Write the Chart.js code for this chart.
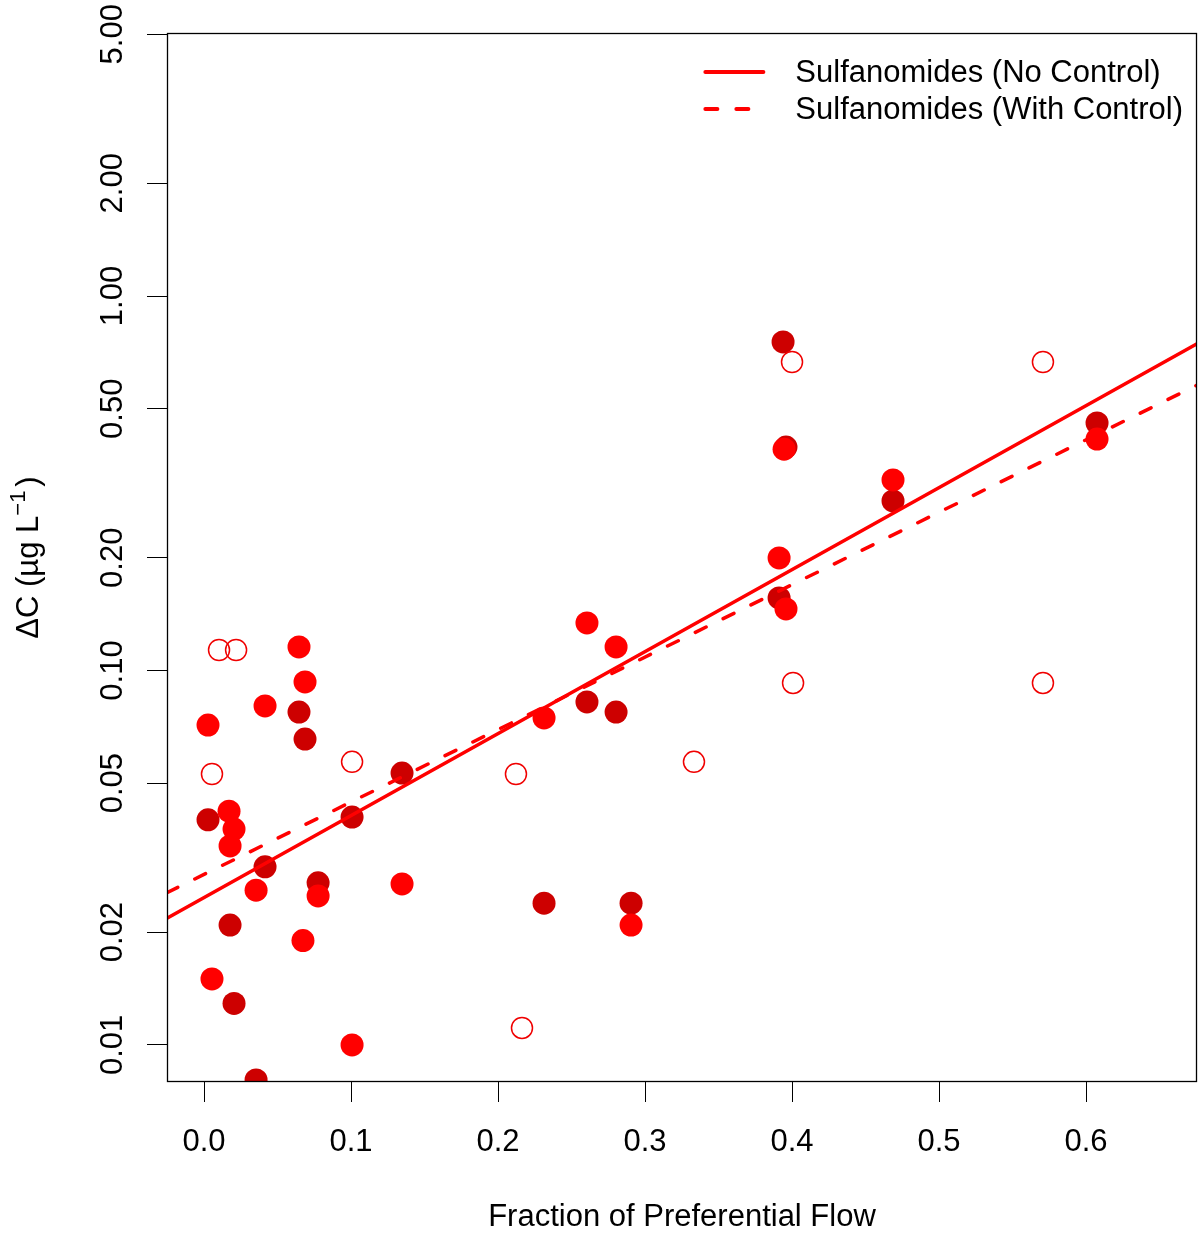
<!DOCTYPE html>
<html>
<head>
<meta charset="utf-8">
<script src="https://cdn.jsdelivr.net/npm/chart.js@4.4.1/dist/chart.umd.min.js"></script>
<style>
  html, body { margin: 0; padding: 0; background: #fff; overflow: hidden; }
  #wrap { position: relative; width: 1198px; height: 1234px; }
  #chart { display: block; }
</style>
</head>
<body>
<div id="wrap"><canvas id="chart"></canvas></div>
<script>
const FONT = "'Liberation Sans', Arial, sans-serif";

// filled points, bright red
const brightX = [0.0646, 0.0687, 0.0415, 0.0027, 0.0170, 0.0204, 0.0177, 0.0354, 0.0776, 0.0673, 0.0054,
                 0.1007, 0.1347, 0.2905, 0.2605, 0.2803, 0.2313, 0.3959, 0.3946, 0.3912, 0.4687, 0.6075];
const brightY = [0.1156, 0.0932, 0.0804, 0.0715, 0.0421, 0.0377, 0.0340, 0.0259, 0.0250, 0.0190, 0.0150,
                 0.0100, 0.0269, 0.0209, 0.1339, 0.1156, 0.0747, 0.1460, 0.390, 0.1997, 0.3227, 0.415];

// filled points, dark red
const darkX = [0.0646, 0.0687, 0.0027, 0.0415, 0.0776, 0.1007, 0.0177, 0.0204, 0.0354, 0.1347,
               0.2313, 0.2905, 0.2605, 0.2803, 0.3912, 0.3939, 0.3959, 0.4687, 0.6075];
const darkY = [0.0774, 0.0656, 0.0399, 0.0299, 0.0271, 0.0406, 0.0209, 0.0129, 0.00806, 0.0532,
               0.0239, 0.0239, 0.0824, 0.0774, 0.1562, 0.754, 0.395, 0.2836, 0.458];

// open circles
const openX = [0.0102, 0.0218, 0.0054, 0.1007, 0.2122, 0.2163, 0.3333, 0.4000, 0.4007, 0.5707, 0.5707];
const openY = [0.1134, 0.1134, 0.0529, 0.0570, 0.0529, 0.0111, 0.0570, 0.6665, 0.0926, 0.6665, 0.0926];

// fitted lines (ends at the plot limits)
const fitX = [-0.0252, 0.6755];
const fitNoControl = [0.0218, 0.746];
const fitWithControl = [0.0255, 0.578];
const fitLabels = ['Sulfanomides (No Control)', 'Sulfanomides (With Control)'];

const xRange = [-0.0252, 0.6755];
const yRange = [0.00796, 5.04];
const xTicks = [0, 0.1, 0.2, 0.3, 0.4, 0.5, 0.6];
const xTickLabels = ['0.0', '0.1', '0.2', '0.3', '0.4', '0.5', '0.6'];
const yTicks = [0.01, 0.02, 0.05, 0.1, 0.2, 0.5, 1, 2, 5];
const yTickLabels = ['0.01', '0.02', '0.05', '0.10', '0.20', '0.50', '1.00', '2.00', '5.00'];

function toPoints(xs, ys) {
    return xs.map((x, i) => ({x: x, y: ys[i]}));
}

// box, rotated y labels, y title and legend (R-like)
const rDecor = {
    id: 'rDecor',
    afterDraw(chart) {
        const ctx = chart.ctx;
        const area = chart.chartArea;
        const yScale = chart.scales.y;
        ctx.save();

        ctx.strokeStyle = '#000';
        ctx.lineWidth = 1.3;
        ctx.strokeRect(area.left + 0.5, area.top + 0.5, area.right - area.left - 1, area.bottom - area.top - 1);

        ctx.fillStyle = '#000';
        ctx.font = '31px ' + FONT;
        ctx.textAlign = 'center';
        ctx.textBaseline = 'alphabetic';
        yTicks.forEach((v, i) => {
            const py = yScale.getPixelForValue(v);
            ctx.save();
            ctx.translate(122, py);
            ctx.rotate(-Math.PI / 2);
            ctx.fillText(yTickLabels[i], 0, 0);
            ctx.restore();
        });

        // y title: ΔC (µg L^-1)
        const mainFont = '31px ' + FONT;
        const supFont = '22px ' + FONT;
        const parts = [
            {t: '\u0394C (\u00b5g L', f: mainFont, dy: 0},
            {t: '\u22121', f: supFont, dy: -13},
            {t: ')', f: mainFont, dy: 0}
        ];
        let total = 0;
        parts.forEach(p => { ctx.font = p.f; p.w = ctx.measureText(p.t).width; total += p.w; });
        total += 4;
        ctx.save();
        ctx.translate(38, (area.top + area.bottom) / 2);
        ctx.rotate(-Math.PI / 2);
        ctx.textAlign = 'left';
        let cx = -total / 2;
        parts.forEach((p, i) => {
            ctx.font = p.f;
            ctx.fillText(p.t, cx, p.dy);
            cx += p.w + (i === 1 ? 4 : 0);
        });
        ctx.restore();

        // legend
        ctx.font = '31px ' + FONT;
        const lines = chart.data.datasets.filter(d => d.isFit);
        let maxW = 0;
        lines.forEach(d => { maxW = Math.max(maxW, ctx.measureText(d.label).width); });
        const textX = area.right - 14 - maxW;
        lines.forEach((d, i) => {
            const ly = area.top + 39 + i * 37;
            ctx.beginPath();
            ctx.strokeStyle = d.borderColor;
            ctx.lineWidth = 4;
            ctx.lineCap = 'round';
            ctx.setLineDash(d.borderDash || []);
            ctx.moveTo(textX - 90, ly);
            ctx.lineTo(textX - 32, ly);
            ctx.stroke();
            ctx.setLineDash([]);
            ctx.textAlign = 'left';
            ctx.textBaseline = 'middle';
            ctx.fillStyle = '#000';
            ctx.fillText(d.label, textX, ly + 1);
        });
        ctx.restore();
    }
};

new Chart(document.getElementById('chart'), {
    type: 'scatter',
    data: {
        datasets: [
            {
                label: fitLabels[0], isFit: true,
                data: toPoints(fitX, fitNoControl),
                showLine: true, borderColor: '#FF0000', borderWidth: 3.5,
                borderCapStyle: 'round', pointRadius: 0, clip: 0, order: 0
            },
            {
                label: fitLabels[1], isFit: true,
                data: toPoints(fitX, fitWithControl),
                showLine: true, borderColor: '#FF0000', borderWidth: 3.5,
                borderDash: [12, 19], borderCapStyle: 'round', pointRadius: 0, clip: 0, order: 0
            },
            {
                label: 'open',
                data: toPoints(openX, openY),
                pointRadius: 10.5, pointBorderWidth: 1.5,
                pointBorderColor: '#F00000', pointBackgroundColor: 'rgba(0,0,0,0)',
                clip: 0, order: 1
            },
            {
                label: 'bright',
                data: toPoints(brightX, brightY),
                pointRadius: 11.5, pointBorderWidth: 0,
                pointBackgroundColor: '#FF0000', clip: 0, order: 2
            },
            {
                label: 'dark',
                data: toPoints(darkX, darkY),
                pointRadius: 11.5, pointBorderWidth: 0,
                pointBackgroundColor: '#CD0000', clip: 0, order: 3
            }
        ]
    },
    options: {
        responsive: true,
        maintainAspectRatio: false,
        animation: false,
        devicePixelRatio: 1,
        layout: { autoPadding: false, padding: { left: 0, top: 33, right: 1, bottom: 0 } },
        plugins: { legend: { display: false }, tooltip: { enabled: false } },
        scales: {
            x: {
                type: 'linear',
                min: xRange[0], max: xRange[1],
                afterBuildTicks: (scale) => { scale.ticks = xTicks.map(v => ({value: v})); },
                afterFit: (scale) => { scale.height = 152; scale.paddingLeft = 0; scale.paddingRight = 0; },
                border: { display: false },
                grid: { drawOnChartArea: false, drawTicks: true, tickLength: 20, color: '#000', lineWidth: 1 },
                ticks: {
                    autoSkip: false, maxRotation: 0, padding: 22, color: '#000',
                    font: { family: FONT, size: 31 },
                    callback: (value, index) => xTickLabels[index]
                },
                title: {
                    display: true, text: 'Fraction of Preferential Flow', color: '#000',
                    font: { family: FONT, size: 31, lineHeight: 1.07 }, padding: { top: 0, bottom: 0 }
                }
            },
            y: {
                type: 'logarithmic',
                min: yRange[0], max: yRange[1],
                afterBuildTicks: (scale) => { scale.ticks = yTicks.map(v => ({value: v})); },
                afterFit: (scale) => { scale.width = 167; scale.paddingTop = 0; scale.paddingBottom = 0; },
                border: { display: false },
                grid: { drawOnChartArea: false, drawTicks: true, tickLength: 20, color: '#000', lineWidth: 1 },
                ticks: { display: false },
                title: { display: false }
            }
        }
    },
    plugins: [rDecor]
});
</script>
</body>
</html>
